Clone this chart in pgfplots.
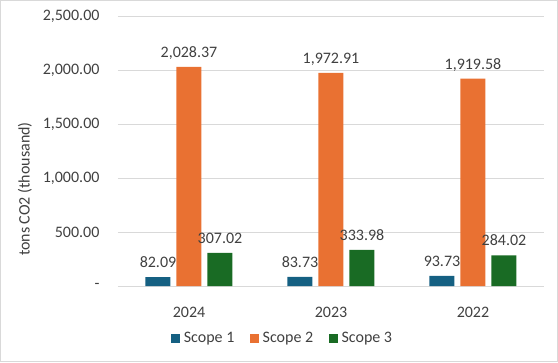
\documentclass[border=0pt]{standalone}
\usepackage{pgfplots}
\pgfplotsset{compat=1.18}
\usepackage{fontspec}
\setmainfont{Carlito}
\definecolor{cA}{HTML}{156082}
\definecolor{cB}{HTML}{E97132}
\definecolor{cC}{HTML}{196B24}
\definecolor{gridc}{HTML}{D9D9D9}
\definecolor{txt}{HTML}{404040}
\begin{document}
\begin{tikzpicture}[font=\fontsize{12}{14.4}\selectfont]
\useasboundingbox (-88.5pt,-57pt) rectangle (330pt,214.5pt);
\draw[gridc, line width=0.75pt] (-88.1pt,-56.6pt) rectangle (329.6pt,214.1pt);
\begin{axis}[
  at={(0pt,0pt)}, anchor=south west,
  scale only axis, width=319.5pt, height=202.5pt,
  ymin=0, ymax=2500, xmin=-0.5, xmax=2.5,
  ytick={0,500,1000,1500,2000,2500},
  yticklabels={{-\hspace{4.5pt}},{500.00},{1,000.00},{1,500.00},{2,000.00},{2,500.00}},
  xtick={0,1,2}, xticklabels={2024,2023,2022},
  ymajorgrids, grid style={gridc, line width=0.75pt},
  axis line style={draw=none},
  major tick style={draw=none},
  yticklabel style={anchor=east, inner sep=0pt, xshift=-13.7pt, text=txt},
  xticklabel style={anchor=base, inner sep=0pt, yshift=-19.5pt, text=txt},
  ylabel={tons CO2 (thousand)},
  every axis y label/.style={at={(axis description cs:-0.2183,0.359)}, anchor=center, rotate=90, text=txt},
  ybar, bar width=18.75pt,
  nodes near coords,
  every node near coord/.append style={anchor=base, yshift=7pt, inner sep=0pt, text=txt,
     /pgf/number format/.cd, fixed, fixed zerofill, precision=2, 1000 sep={,}, assume math mode=true},
  legend columns=3,
  legend style={at={(axis description cs:0.3838,-0.1926)}, anchor=center, draw=none, fill=none,
     text=txt, /tikz/every even column/.append style={column sep=11.5pt},
     nodes={inner sep=0pt, anchor=west}},
  legend image code/.code={\fill[#1] (0pt,-3.375pt) rectangle (6.75pt,3.375pt);},
  /tikz/every odd column/.append style={column sep=3pt},
]
\addplot[fill=cA, draw=none, bar shift=-23.25pt] coordinates {(0,82.09) (1,83.73) (2,93.73)};
\addplot[fill=cB, draw=none, bar shift=0pt] coordinates {(0,2028.37) (1,1972.91) (2,1919.58)};
\addplot[fill=cC, draw=none, bar shift=23.25pt] coordinates {(0,307.02) (1,333.98) (2,284.02)};
\legend{Scope 1, Scope 2, Scope 3}
\end{axis}
\end{tikzpicture}
\end{document}
